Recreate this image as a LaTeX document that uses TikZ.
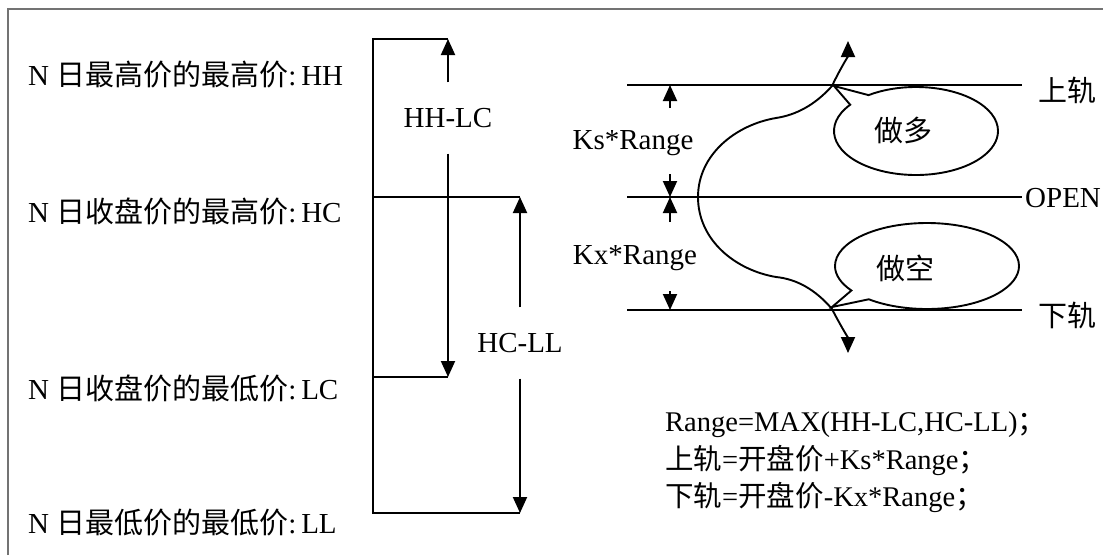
\documentclass[tikz,border=0pt]{standalone}
\usepackage{fontspec}
\setmainfont{Liberation Serif}
\newfontfamily\cjk{Noto Sans CJK SC}
\usetikzlibrary{arrows.meta,shapes.callouts,shapes.geometric}
\begin{document}
\begin{tikzpicture}[x=1pt,y=-1pt,
  ln/.style={line width=1.9pt, black},
  tip/.tip={Triangle[length=16pt,width=14pt]},
  arr/.style={ln, -tip},
  txt/.style={font=\fontsize{29}{35}\selectfont, inner sep=0pt},
  btxt/.style={font=\fontsize{28.5}{34}\selectfont, inner sep=0pt, anchor=base west},
  gaplab/.style={txt, minimum height=71pt},
  bubble/.style={ellipse callout, draw, line width=1.9pt, inner sep=0pt},
  framestyle/.style={line width=1.5pt, black!55}
]
\useasboundingbox (0,0) rectangle (1103,555);
\draw[framestyle] (8,555) -- (8,9) -- (1103,9);

% ---------- left labels ----------
\node[txt, anchor=west] (lhh) at (28,75)  {N {\cjk 日最高价的最高价}:\,HH};
\node[txt, anchor=west] (lhc) at (28,211) {N {\cjk 日收盘价的最高价}:\,HC};
\node[txt, anchor=west] (llc) at (28,388) {N {\cjk 日收盘价的最低价}:\,LC};
\node[txt, anchor=west] (lll) at (28,523) {N {\cjk 日最低价的最低价}:\,LL};

% ---------- left bracket ----------
\coordinate (hhL) at (373,39);  \coordinate (hhR) at (448,39);
\coordinate (hcL) at (373,197); \coordinate (hcR) at (520,197);
\coordinate (lcL) at (373,377); \coordinate (lcR) at (448,377);
\coordinate (llL) at (373,513); \coordinate (llR) at (520,513);
\draw[ln] (hhR) -- (hhL) -- (llL) -- (llR);
\draw[ln] (hcL) -- (hcR);
\draw[ln] (lcL) -- (lcR);

\node[gaplab] (hhlc) at (448,118) {HH-LC};
\draw[arr] (hhlc.north) -- (hhR);
\draw[arr] (hhlc.south) -- (lcR);

\node[gaplab] (hcll) at (520,343) {HC-LL};
\draw[arr] (hcll.north) -- (hcR);
\draw[arr] (hcll.south) -- (llR);

% ---------- right channel ----------
\coordinate (upL) at (627,85);  \coordinate (upR) at (1022,85);
\coordinate (opL) at (627,197); \coordinate (opR) at (1022,197);
\coordinate (dnL) at (627,310); \coordinate (dnR) at (1022,310);
\draw[ln] (upL) -- (upR);
\draw[ln] (opL) -- (opR);
\draw[ln] (dnL) -- (dnR);
\node[txt, anchor=west] (uplab) at (1038,90) {\cjk 上轨};
\node[txt, anchor=west] (oplab) at (1025,198) {OPEN};
\node[txt, anchor=west] (dnlab) at (1038,315) {\cjk 下轨};

% dimension arrows
\coordinate (d1) at (670,108); \coordinate (d1t) at (670,85);
\coordinate (d2) at (670,174); \coordinate (d2t) at (670,197);
\coordinate (d3) at (670,222); \coordinate (d3t) at (670,197);
\coordinate (d4) at (670,291); \coordinate (d4t) at (670,310);
\draw[arr] (d1) -- (d1t);
\draw[arr] (d2) -- (d2t);
\draw[arr] (d3) -- (d3t);
\draw[arr] (d4) -- (d4t);
\node[txt] (ks) at (633,143) {Ks*Range};
\node[txt] (kx) at (635,258) {Kx*Range};

% price curve
\coordinate (T) at (848,41);
\coordinate (A) at (832,86);
\coordinate (B) at (776,118);
\coordinate (C) at (698,197);
\coordinate (D) at (776,277);
\coordinate (E) at (832,309);
\coordinate (Bt) at (848,353);
\draw[ln, tip-tip] (T) .. controls (848,56) and (838,73) .. (A)
  .. controls (815,105) and (796,115) .. (B)
  .. controls (735,125) and (698,155) .. (C)
  .. controls (698,240) and (735,270) .. (D)
  .. controls (796,279) and (815,289) .. (E)
  .. controls (838,321) and (848,338) .. (Bt);

% callouts
\node[bubble, minimum width=164pt, minimum height=88pt,
      callout absolute pointer={(834,86)}, callout pointer arc=18] (longb) at (916,131) {};
\node[txt] (longt) at (903,130) {\cjk 做多};
\node[bubble, minimum width=184pt, minimum height=86pt,
      callout absolute pointer={(832,307)}, callout pointer arc=16] (shortb) at (927,266) {};
\node[txt] (shortt) at (905,268) {\cjk 做空};

% formulas
\node[btxt] (f1) at (665,431) {Range=MAX(HH-LC,HC-LL){\cjk ；}};
\node[btxt] (f2) at (665,469) {{\cjk 上轨}={\cjk 开盘价}+Ks*Range{\cjk ；}};
\node[btxt] (f3) at (665,506) {{\cjk 下轨}={\cjk 开盘价}-Kx*Range{\cjk ；}};
\end{tikzpicture}
\end{document}
